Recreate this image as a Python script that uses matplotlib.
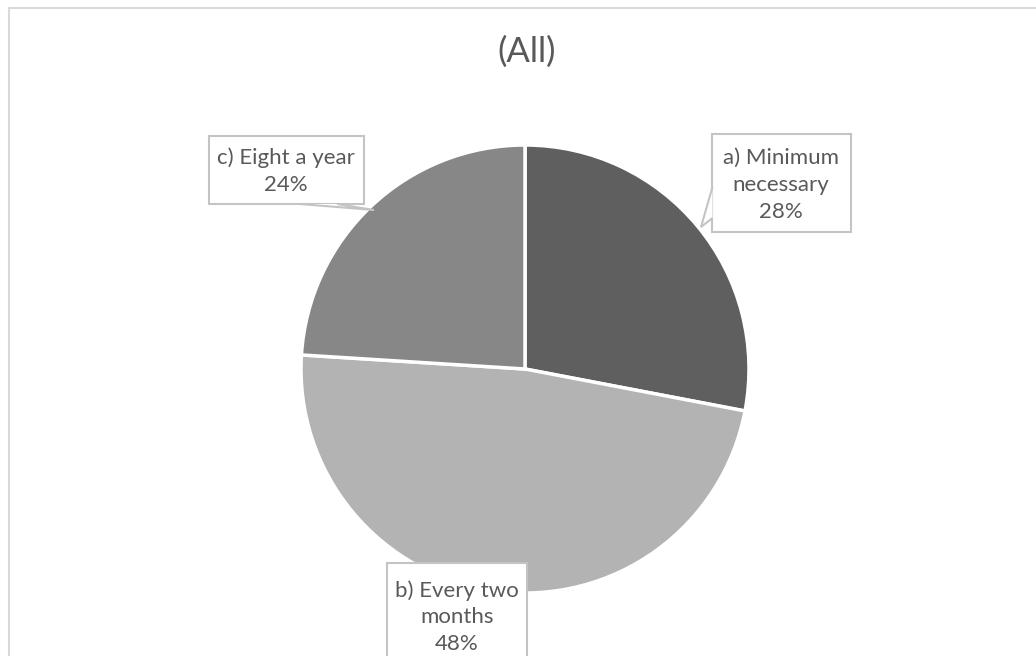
import matplotlib
matplotlib.use("Agg")
import matplotlib.pyplot as plt
from matplotlib.patches import Rectangle, Polygon

# ── data ──────────────────────────────────────
labels = ["a) Minimum\nnecessary", "b) Every two\nmonths", "c) Eight a year"]
shares = [28, 48, 24]
colors = ["#5f5f5f", "#b3b3b3", "#878787"]
title = "(All)"

W, H = 1036, 656
TXT = "#595959"
EDGE = "#c4c4c4"

fig = plt.figure(figsize=(W / 100, H / 100), dpi=100)
ax = fig.add_axes([0, 0, 1, 1])


def py(y):
    # pixel row -> data y
    return H - y


# chart border
ax.add_patch(Rectangle((8.5, py(700)), 1040, 700 - 7.5, fill=False,
                       edgecolor="#d9d9d9", lw=1.5))

ax.pie(shares, colors=colors, startangle=90, counterclock=False,
       center=(525, py(369)), radius=224, frame=True,
       wedgeprops=dict(edgecolor="white", linewidth=2.5))
ax.set_xlim(0, W)
ax.set_ylim(0, H)
ax.set_aspect("equal")
ax.axis("off")

ax.text(527, py(52), title, ha="center", va="center",
        fontsize=25, color=TXT, family="Lato")

# label boxes: (left, top, right, bottom), text centre, callout polygon
boxes = [
    ((712, 134, 851, 232), (781, 185),
     [(712.5, 187), (701, 227), (712.5, 218)]),
    ((387, 563, 527, 700), (457, 617),
     None),
    ((209, 136, 364, 204), (286, 171),
     [(300, 204), (374, 210), (337, 204)]),
]

for (l, t, r, b), (cx, cy), tail in boxes:
    ax.add_patch(Rectangle((l, py(b)), r - l, b - t, facecolor="white",
                           edgecolor=EDGE, lw=1.5, zorder=3))
    if tail:
        ax.add_patch(Polygon([(x, py(y)) for x, y in tail], closed=False,
                             facecolor="white", edgecolor=EDGE, lw=1.5,
                             zorder=4))

for (box, (cx, cy), _), lab, s in zip(boxes, labels, shares):
    ax.text(cx, py(cy), f"{lab}\n{s}%", ha="center", va="center",
            fontsize=16, color=TXT, family="Lato", linespacing=1.42,
            zorder=5)

fig.savefig("out.png", dpi=100, facecolor="white")
